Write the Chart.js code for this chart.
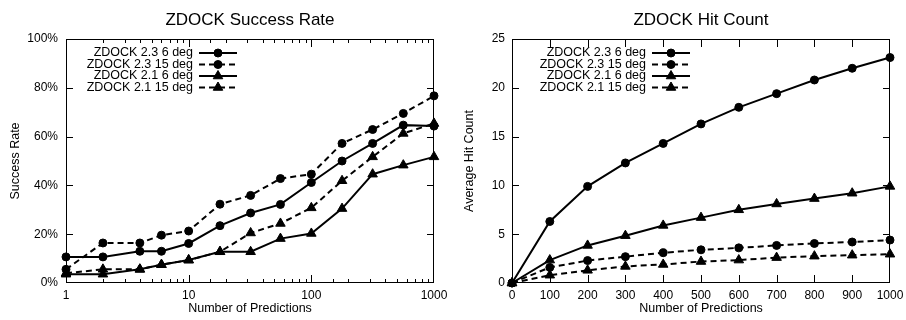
<!DOCTYPE html>
<html>
<head>
<meta charset="utf-8">
<title>ZDOCK</title>
<script src="https://cdn.jsdelivr.net/npm/chart.js@4.4.1/dist/chart.umd.min.js"></script>
<style>
  html, body { margin: 0; padding: 0; background: #fff; }
  .wrap { display: flex; width: 906px; height: 320px; }
  canvas { display: block; }
</style>
</head>
<body>
<div class="wrap">
  <canvas id="rateChart" width="453" height="320"></canvas>
  <canvas id="hitChart" width="453" height="320"></canvas>
</div>
<script>
'use strict';

// 1. DATA
const SERIES = ['ZDOCK 2.3 6 deg', 'ZDOCK 2.3 15 deg', 'ZDOCK 2.1 6 deg', 'ZDOCK 2.1 15 deg'];

// Success rate (%), x log-scale
const predLog   = [1, 2, 4, 6, 10, 18, 32, 56, 100, 178, 316, 562, 1000];
const rate23_6  = [10.7, 10.7, 13.0, 13.0, 16.2, 23.5, 28.7, 32.2, 41.2, 50.0, 57.2, 64.7, 64.3];
const rate23_15 = [5.6, 16.4, 16.4, 19.6, 21.3, 32.3, 35.9, 42.8, 44.6, 57.2, 62.9, 69.5, 76.7];
const rate21_6  = [3.6, 3.6, 5.6, 7.5, 9.4, 12.8, 12.8, 18.2, 20.3, 30.5, 44.6, 48.3, 51.7];
const rate21_15 = [4.0, 5.6, 5.6, 7.5, 9.4, 12.8, 20.5, 24.4, 30.8, 41.9, 51.7, 61.3, 65.4];
const decadeTicks = [1, 10, 100, 1000];

// Average hit count, x linear
const predLin  = [0, 100, 200, 300, 400, 500, 600, 700, 800, 900, 1000];
const hit23_6  = [0, 6.3, 9.9, 12.3, 14.3, 16.3, 18.0, 19.4, 20.8, 22.0, 23.1];
const hit23_15 = [0, 1.6, 2.3, 2.7, 3.1, 3.4, 3.6, 3.85, 4.05, 4.2, 4.4];
const hit21_6  = [0, 2.35, 3.85, 4.85, 5.9, 6.7, 7.5, 8.1, 8.65, 9.2, 9.9];
const hit21_15 = [0, 0.8, 1.3, 1.7, 1.9, 2.2, 2.35, 2.6, 2.75, 2.85, 2.95];

// Gaya garis per seri
const LOOK = [
  { dash: [],     point: 'circle',   r: 4 },
  { dash: [6, 4], point: 'circle',   r: 4 },
  { dash: [],     point: 'triangle', r: 5.5 },
  { dash: [6, 4], point: 'triangle', r: 5.5 },
];

const FONT = '"Liberation Sans", Arial, Helvetica, sans-serif';
Chart.defaults.font.family = FONT;
Chart.defaults.color = '#000';

function makeSets(xs, cols) {
  return SERIES.map((name, i) => ({
    label: name,
    data: xs.map((x, j) => ({ x, y: cols[i][j] })),
    borderColor: '#000',
    backgroundColor: '#000',
    borderWidth: 2,
    borderDash: LOOK[i].dash,
    pointStyle: LOOK[i].point,
    pointRadius: LOOK[i].r,
    pointHoverRadius: LOOK[i].r,
    pointBorderWidth: 1,
    tension: 0,
    clip: false,
  }));
}

// 2. PLUGIN: frame + inward ticks (gnuplot style)
const frameTicks = {
  id: 'frameTicks',
  beforeDatasetsDraw(chart) {
    const { ctx, chartArea: a, scales } = chart;
    const isLog = scales.x.type === 'logarithmic';
    ctx.save();
    ctx.strokeStyle = '#000';
    ctx.lineWidth = 1;
    ctx.strokeRect(a.left + 0.5, a.top + 0.5, a.right - a.left - 1, a.bottom - a.top - 1);
    ctx.beginPath();
    scales.x.ticks.forEach((t) => {
      const px = Math.round(scales.x.getPixelForValue(t.value)) + 0.5;
      if (px <= a.left + 1 || px >= a.right - 1) return;
      const len = !isLog || decadeTicks.includes(t.value) ? 8 : 4;
      ctx.moveTo(px, a.bottom); ctx.lineTo(px, a.bottom - len);
      ctx.moveTo(px, a.top);    ctx.lineTo(px, a.top + len);
    });
    scales.y.ticks.forEach((t) => {
      const py = Math.round(scales.y.getPixelForValue(t.value)) + 0.5;
      if (py <= a.top + 1 || py >= a.bottom - 1) return;
      ctx.moveTo(a.left, py);  ctx.lineTo(a.left + 7, py);
      ctx.moveTo(a.right, py); ctx.lineTo(a.right - 7, py);
    });
    ctx.stroke();
    ctx.restore();
  },
};

// 3. PLUGIN: key (text right, sample line on the right)
const gnuKey = {
  id: 'gnuKey',
  afterDraw(chart) {
    const { ctx } = chart;
    const textRight = 193, x0 = 199, x1 = 237, top = 53, gap = 11.5;
    ctx.save();
    ctx.font = '12.5px ' + FONT;
    ctx.textAlign = 'right';
    ctx.textBaseline = 'middle';
    chart.data.datasets.forEach((ds, i) => {
      const yy = top + i * gap;
      ctx.fillStyle = '#000';
      ctx.fillText(ds.label, textRight, yy);
      ctx.strokeStyle = '#000';
      ctx.lineWidth = 2;
      ctx.setLineDash(ds.borderDash);
      ctx.beginPath();
      ctx.moveTo(x0, yy); ctx.lineTo(x1, yy);
      ctx.stroke();
      ctx.setLineDash([]);
      ctx.lineWidth = 1;
      Chart.helpers.drawPoint(ctx, { pointStyle: ds.pointStyle, radius: ds.pointRadius, rotation: 0, borderWidth: 1 }, (x0 + x1) / 2, yy);
    });
    ctx.restore();
  },
};

function baseOptions(title, yTitle, yWidth, padRight) {
  return {
    responsive: false,
    animation: false,
    events: [],
    layout: { padding: { left: 0, right: padRight, top: 0, bottom: 0 } },
    plugins: {
      legend: { display: false },
      tooltip: { enabled: false },
      title: {
        display: true,
        text: title,
        fullSize: false,
        color: '#000',
        font: { size: 17, weight: 'normal' },
        padding: { top: 10, bottom: 8.6 },
      },
    },
    scales: {
      x: {
        grid: { display: false, drawTicks: false },
        border: { display: false },
        ticks: { autoSkip: false, maxRotation: 0, padding: 5, font: { size: 12 }, color: '#000' },
        title: { display: true, text: 'Number of Predictions', font: { size: 12.5 }, color: '#000', padding: { top: 0, bottom: 3.5 } },
        afterFit: (s) => { s.height = 37; s.paddingLeft = 0; s.paddingRight = 0; },
      },
      y: {
        grid: { display: false, drawTicks: false },
        border: { display: false },
        ticks: { padding: 8, font: { size: 12 }, color: '#000' },
        title: { display: true, text: yTitle, font: { size: 12.5 }, color: '#000', padding: { top: 8, bottom: 0 } },
        afterFit: (s) => { s.width = yWidth; s.paddingTop = 0; s.paddingBottom = 0; },
      },
    },
  };
}

// 4. CHART – Success Rate
(function initRateChart() {
  const opts = baseOptions('ZDOCK Success Rate', 'Success Rate', 66, 19);
  Object.assign(opts.scales.x, { type: 'logarithmic', min: 1, max: 1000 });
  opts.scales.x.ticks.callback = (v) => (decadeTicks.includes(v) ? String(v) : '');
  Object.assign(opts.scales.y, { type: 'linear', min: 0, max: 100 });
  opts.scales.y.ticks.stepSize = 20;
  opts.scales.y.ticks.callback = (v) => v + '%';

  new Chart(document.getElementById('rateChart'), {
    type: 'line',
    data: { datasets: makeSets(predLog, [rate23_6, rate23_15, rate21_6, rate21_15]) },
    options: opts,
    plugins: [frameTicks, gnuKey],
  });
})();

// 5. CHART – Hit Count
(function initHitChart() {
  const opts = baseOptions('ZDOCK Hit Count', 'Average Hit Count', 59, 16);
  Object.assign(opts.scales.x, { type: 'linear', min: 0, max: 1000 });
  opts.scales.x.ticks.stepSize = 100;
  opts.scales.x.ticks.callback = (v) => String(v);
  Object.assign(opts.scales.y, { type: 'linear', min: 0, max: 25 });
  opts.scales.y.ticks.stepSize = 5;
  opts.scales.y.ticks.padding = 7;
  opts.scales.y.title.padding = { top: 9.5, bottom: 0 };

  new Chart(document.getElementById('hitChart'), {
    type: 'line',
    data: { datasets: makeSets(predLin, [hit23_6, hit23_15, hit21_6, hit21_15]) },
    options: opts,
    plugins: [frameTicks, gnuKey],
  });
})();
</script>
</body>
</html>
